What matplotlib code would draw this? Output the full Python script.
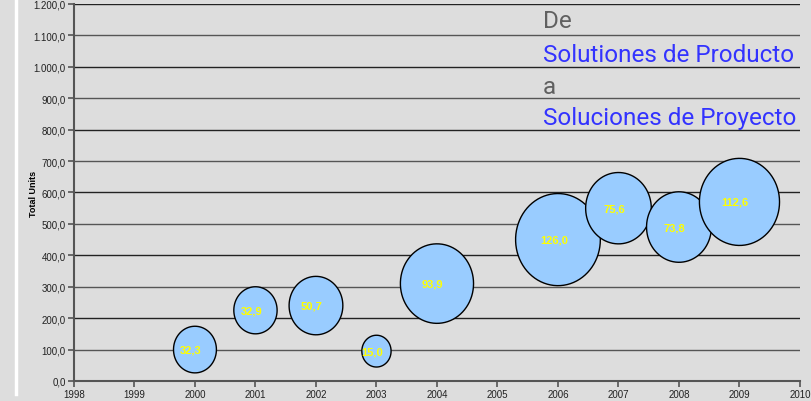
import matplotlib.pyplot as plt
import numpy as np
from matplotlib.path import Path
from matplotlib.lines import Line2D

# datos
years = [2000, 2001, 2002, 2003, 2004, 2006, 2007, 2008, 2009]
units = [100, 225, 240, 95, 310, 450, 550, 490, 570]
sizes = [32.3, 32.9, 50.7, 15.0, 93.9, 126.0, 75.6, 73.8, 112.6]
labels = ['32,3', '32,9', '50,7', '15,0', '93,9', '126,0', '75,6', '73,8', '112,6']
yticks = [0, 100, 200, 300, 400, 500, 600, 700, 800, 900, 1000, 1100, 1200]
xticks = list(range(1998, 2011))

bg = '#dddddd'

fig = plt.figure(figsize=(8.11, 4.02), dpi=100, facecolor=bg)
ax = fig.add_axes([0.0912, 0.0498, 0.8952, 0.9378], facecolor=bg)

# burbuja un poco mas alta que ancha
t = np.linspace(0, 2 * np.pi, 80)
ell = Path(np.column_stack([0.46 * np.cos(t), 0.5 * np.sin(t)]), closed=True)

ax.scatter(years, units, s=[v * 34.9 for v in sizes], marker=ell,
           facecolor='#99ccff', edgecolor='black', linewidths=1.0, zorder=3)

for x, y, lab in zip(years, units, labels):
    ax.annotate(lab, (x, y), xytext=(-3, 0), textcoords='offset points',
                ha='center', va='center', color='#ffff00', fontsize=8,
                fontweight='bold', family='Liberation Sans', zorder=4)

ax.set_xlim(1998, 2010)
ax.set_ylim(0, 1200)
ax.set_xticks(xticks)
ax.set_yticks(yticks)
ax.set_yticklabels(['{:,.1f}'.format(v).replace(',', 'X').replace('.', ',').replace('X', '.')
                    for v in yticks])
for i, v in enumerate(yticks[1:]):
    ax.axhline(v, color='#222222' if i % 2 else '#555555', lw=1.0, zorder=1)

for lab in ax.get_xticklabels() + ax.get_yticklabels():
    lab.set_family('Liberation Sans')
    lab.set_fontsize(7)
    lab.set_color('#222222')
ax.tick_params(axis='both', length=4, width=1.2, color='#555555', pad=2)

for s in ['top', 'right']:
    ax.spines[s].set_visible(False)
for s in ['left', 'bottom']:
    ax.spines[s].set_color('#555555')
    ax.spines[s].set_linewidth(1.5)

ax.set_ylabel('Total Units', fontsize=6.5, fontweight='bold', family='Liberation Sans')
ax.yaxis.set_label_coords(-0.05, 0.5)

# texto
fs = 17.5
fig.text(543 / 811, 1 - 21 / 402, 'De', color='#606060', fontsize=fs, family='Roboto', va='center')
fig.text(543 / 811, 1 - 55 / 402, 'Solutiones de Producto', color='#3333ff', fontsize=fs, family='Roboto', va='center')
fig.text(543 / 811, 1 - 88 / 402, 'a', color='#606060', fontsize=fs, family='Roboto', va='center')
fig.text(543 / 811, 1 - 119 / 402, 'Soluciones de Proyecto', color='#3333ff', fontsize=fs, family='Roboto', va='center')

fig.add_artist(Line2D([16 / 811, 16 / 811], [1, 1 - 395 / 402], color='white', lw=2.5))

fig.savefig('out.png', dpi=100, facecolor=bg)
